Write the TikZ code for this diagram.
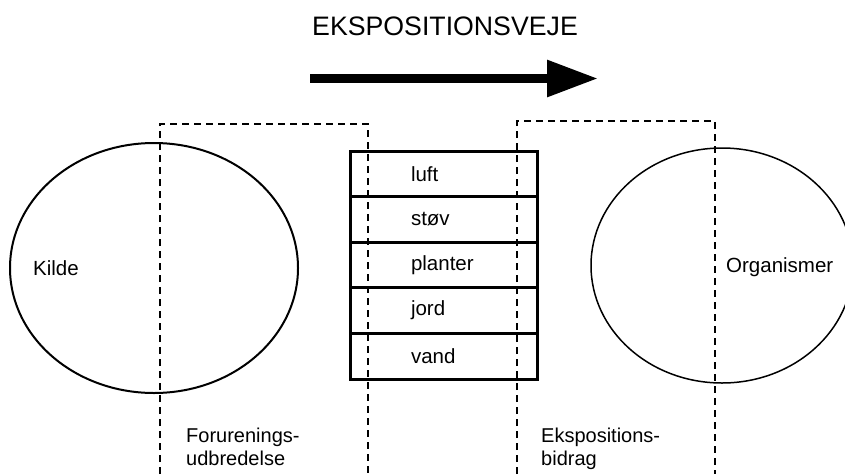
\documentclass[tikz,border=0pt]{standalone}
\usepackage{fontspec}
\setmainfont{Liberation Sans}
\usetikzlibrary{shapes.geometric,positioning,arrows.meta}

\begin{document}
\begin{tikzpicture}[x=1pt,y=-1pt,
  every node/.style={font=\fontsize{20.5}{23}\selectfont, inner sep=0pt},
  zone/.style={ellipse, draw},
  medium/.style={draw, line width=3pt, outer sep=0pt, minimum width=187pt,
    minimum height=45.6pt, text width=65pt, inner xsep=61pt, align=left},
  border/.style={dashed, line width=2pt, dash pattern=on 7pt off 5pt},
  fatarrow/.style={line width=9pt, -{Triangle[length=51pt,width=35pt]}}]
  \useasboundingbox (0,0) rectangle (845,474);
  \clip (0,0) rectangle (845,474);
  % kilde og organismer
  \node[zone, line width=2pt, minimum width=288pt, minimum height=250pt] (kilde) at (154,268) {};
  \node[zone, line width=1.5pt, minimum width=262pt, minimum height=235pt] (organismer) at (722,265.5) {};
  \node[anchor=west] (kildetxt) at ([xshift=24pt]kilde.west) {Kilde};
  \node[anchor=base west] (organismertxt) at (726,272) {Organismer};
  % medier
  \node[medium] (luft) at (443.5,173.8) {luft};
  \node[medium, below=0pt of luft] (stov) {støv};
  \node[medium, below=0pt of stov] (planter) {planter};
  \node[medium, below=0pt of planter] (jord) {jord};
  \node[medium, below=0pt of jord] (vand) {vand};
  % omraader
  \draw[border] (160,474) -- (160,124) -- (368,124) -- (368,474);
  \draw[border] (517,474) -- (517,121) -- (715,121) -- (715,474);
  \node[anchor=north west, align=left, font=\fontsize{20}{23}\selectfont] (udbredelse) at (186,427.5) {Forurenings-\\udbredelse};
  \node[anchor=north west, align=left, font=\fontsize{20}{23}\selectfont] (bidrag) at (541,427.5) {Ekspositions-\\bidrag};
  % eksponeringsvej
  \node[anchor=base, font=\fontsize{26.7}{30}\selectfont] (titel) at (445,35) {EKSPOSITIONSVEJE};
  \coordinate (pilstart) at (310,78.5);
  \coordinate (pilslut) at (598,78.5);
  \draw[fatarrow] (pilstart) -- (pilslut);
\end{tikzpicture}
\end{document}
